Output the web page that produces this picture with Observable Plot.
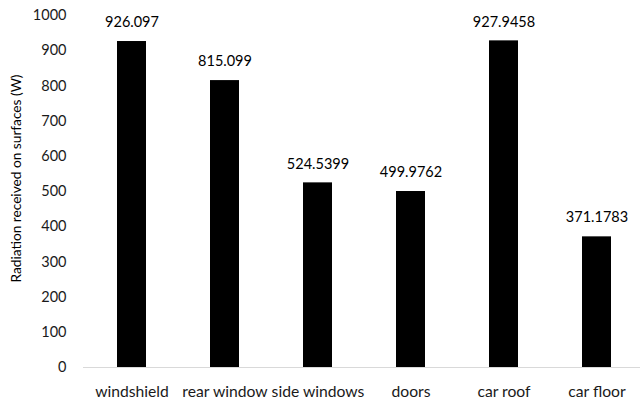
<!DOCTYPE html>
<html>
<head>
<meta charset="utf-8">
<script src="https://cdn.jsdelivr.net/npm/d3@7"></script>
<script src="https://cdn.jsdelivr.net/npm/@observablehq/plot@0.6"></script>
<style>
  html, body { margin: 0; padding: 0; background: #fff; }
  #chart svg { display: block; }
</style>
</head>
<body>
<div id="chart"></div>
<script>
// Radiation received on each car surface (W)
const surfaces = ["windshield", "rear window", "side windows", "doors", "car roof", "car floor"];
const radiation = [926.097, 815.099, 524.5399, 499.9762, 927.9458, 371.1783];
const valueLabels = ["926.097", "815.099", "524.5399", "499.9762", "927.9458", "371.1783"];
const yTicks = [0, 100, 200, 300, 400, 500, 600, 700, 800, 900, 1000];

const data = surfaces.map((s, i) => ({surface: s, value: radiation[i], label: valueLabels[i]}));

const font = "Lato, 'Open Sans', sans-serif";

const chart = Plot.plot({
  width: 640,
  height: 403,
  marginTop: 15,
  marginBottom: 36,
  marginLeft: 83,
  marginRight: 0,
  style: {fontFamily: font, fontSize: "14px", color: "#1a1a1a", background: "#fff"},
  x: {
    domain: surfaces,
    range: [83, 645],
    paddingInner: 0.69,
    paddingOuter: 0.345,
    label: null
  },
  y: {
    domain: [0, 1000],
    label: null
  },
  marks: [
    Plot.barY(data, {x: "surface", y: "value", fill: "#000"}),
    Plot.ruleY([0], {stroke: "#d9d9d9", strokeWidth: 1.2}),
    Plot.text(data, {
      x: "surface", y: "value", text: "label",
      dy: -19, fontSize: 14.5, fill: "#000"
    }),
    Plot.axisY({
      ticks: yTicks, tickSize: 0, tickPadding: 17, tickFormat: d => String(d),
      fontSize: 14.5, label: null
    }),
    Plot.axisX({tickSize: 0, tickPadding: 18, fontSize: 15.7, label: null}),
    Plot.text(["Radiation received on surfaces (W)"], {
      frameAnchor: "left", textAnchor: "middle", dx: -67, dy: -13,
      rotate: -90, fontSize: 13.7, fill: "#000"
    })
  ]
});

document.getElementById("chart").appendChild(chart);
</script>
</body>
</html>
